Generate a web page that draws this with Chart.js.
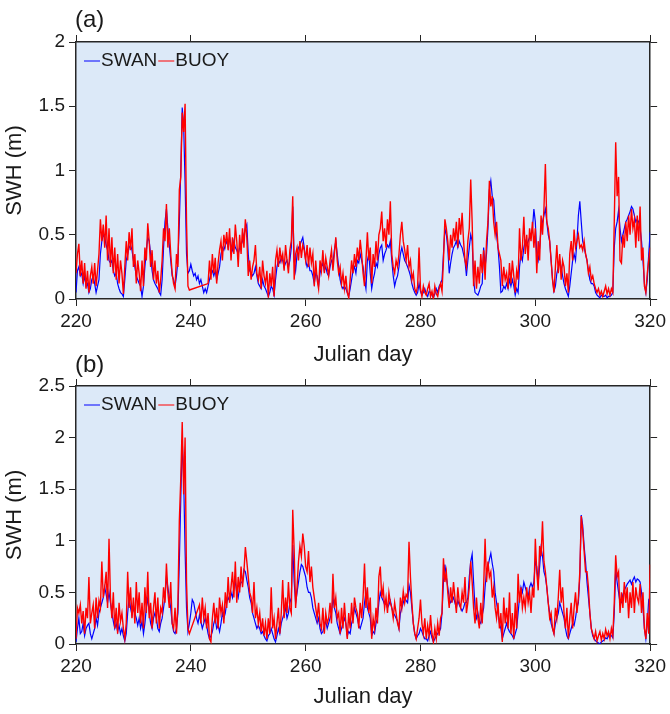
<!DOCTYPE html>
<html>
<head>
<meta charset="utf-8">
<script src="https://cdn.jsdelivr.net/npm/chart.js"></script>
<style>
  body { margin: 0; background: #fff; width: 670px; height: 714px; position: relative; overflow: hidden; }
  canvas { position: absolute; left: 0; }
  #chartA { top: 0; }
  #chartB { top: 350px; }
</style>
</head>
<body>
<canvas id="chartA" width="670" height="372"></canvas>
<canvas id="chartB" width="670" height="364"></canvas>
<script>
// Julian days 220..320, 4 samples per day (6-hourly)
const days = [];
for (let i = 0; i <= 400; i++) days.push(220 + i / 4);

const xTicks = [220, 240, 260, 280, 300, 320];
const yTicksA = [0, 0.5, 1, 1.5, 2];
const yTicksB = [0, 0.5, 1, 1.5, 2, 2.5];

// panel (a)
const buoyA = [
  .20,.35,.43,.18, .30,.12,.28,.08, .22,.05,.18,.25, .12,.28,.10,.22, .35,.62,.45,.58,
  .40,.65,.30,.55, .25,.48,.20,.40, .15,.35,.12,.30, .20,.04,.25,.45, .30,.52,.38,.55,
  .25,.35,.12,.30, .20,.06,.30,.10, .40,.30,.59,.45, .25,.38,.15,.30, .12,.22,.05,.15,
  .30,.55,.45,.74, .40,.55,.35,.20, .12,.08,.35,.25, .85,.95,1.45,1.30, 1.52,.60,.10,.07,
  null,null,null,null, null,null,null,null, null,null,null,null, .12,.30,.15,.35, .20,.32,.12,.28,
  .38,.45,.30,.50, .42,.52,.38,.55, .30,.48,.35,.58, .45,.25,.50,.35, .55,.40,.62,.48,
  .18,.30,.15,.25, .30,.42,.20,.15, .25,.08,.30,.18, .12,.22,.01,.20, .10,.25,.02,.30,
  .38,.25,.40,.30, .35,.22,.42,.30, .20,.38,.45,.80, .15,.35,.40,.30, .45,.32,.42,.38,
  .30,.42,.25,.40, .28,.35,.10,.30, .15,.08,.30,.22, .38,.20,.32,.25, .18,.30,.38,.22,
  .35,.48,.30,.20, .25,.12,.20,.08, .18,.05,.01,.15, .30,.20,.35,.25, .40,.30,.46,.35,
  .20,.10,.30,.52, .30,.40,.12,.35, .25,.45,.30,.50, .55,.68,.45,.55, .40,.62,.50,.76,
  .35,.25,.20,.30, .25,.35,.50,.60, .45,.38,.30,.42, .25,.30,.15,.20, .08,.05,.10,.40,
  .08,.02,.10,.05, .03,.08,.12,.02, .06,.00,.10,.04, .02,.08,.12,.06, .30,.62,.55,.45,
  .30,.50,.40,.55, .45,.60,.40,.63, .50,.67,.45,.30, .25,.45,.55,.93, .60,.10,.30,.08,
  .25,.12,.35,.20, .38,.15,.45,.60, .92,.72,.80,.60, .50,.60,.40,.35, .30,.10,.25,.15,
  .20,.08,.28,.12, .30,.18,.05,.22, .15,.55,.30,.40, .64,.35,.50,.30, .55,.45,.60,.40,
  .55,.20,.45,.30, .65,.50,.70,1.05, .60,.55,.45,.30, .15,.05,.25,.42, .20,.35,.15,.30,
  .25,.10,.20,.05, .35,.45,.30,.54, .40,.45,.50,.40, .42,.38,.45,.35, .30,.20,.25,.15,
  .18,.12,.08,.05, .08,.03,.06,.02, .06,.10,.04,.08, .03,.08,.05,.60, 1.22,.80,.95,.30,
  .28,.50,.40,.60, .45,.65,.50,.70, .55,.62,.40,.65, .45,.72,.30,.40, .10,.05,.20,.30,
  .40
];
const swanA = [
  .05,.22,.25,.18, .20,.12,.18,.10, .12,.05,.08,.15, .18,.12,.05,.10, .15,.35,.45,.50,
  .48,.42,.38,.30, .28,.30,.22,.18, .20,.12,.08,.05, .04,.02,.15,.30, .35,.40,.42,.38,
  .30,.25,.18,.15, .12,.10,.02,.10, .25,.38,.48,.45, .35,.22,.15,.12, .10,.08,.05,.03,
  .15,.40,.60,.70, .55,.42,.30,.18, .15,.10,.18,.30, .60,1.00,1.49,1.35, .90,.35,.20,.22,
  .27,.22,.18,.20, .15,.18,.12,.15, .10,.05,.08,.05, .10,.15,.20,.22, .18,.22,.15,.20,
  .25,.35,.40,.38, .42,.45,.40,.48, .42,.38,.45,.40, .38,.35,.40,.42, .45,.50,.55,.58,
  .35,.22,.20,.18, .20,.25,.18,.12, .10,.08,.15,.10, .08,.05,.02,.05, .10,.08,.03,.15,
  .25,.30,.28,.32, .30,.25,.28,.30, .25,.30,.40,.72, .30,.22,.35,.40, .42,.45,.48,.40,
  .30,.25,.28,.22, .22,.18,.12,.20, .18,.10,.20,.25, .28,.22,.25,.20, .18,.25,.30,.28,
  .38,.45,.35,.25, .15,.10,.08,.10, .08,.05,.02,.08, .15,.22,.25,.20, .30,.28,.35,.30,
  .25,.15,.08,.30, .35,.20,.08,.15, .20,.28,.25,.35, .40,.42,.30,.35, .38,.42,.40,.45,
  .30,.18,.10,.15, .18,.25,.35,.40, .35,.30,.28,.25, .22,.18,.12,.08, .05,.03,.05,.12,
  .06,.03,.05,.08, .04,.02,.06,.05, .03,.01,.04,.08, .05,.10,.12,.15, .35,.55,.50,.40,
  .20,.28,.35,.40, .42,.45,.40,.45, .42,.40,.35,.30, .18,.30,.40,.50, .45,.15,.05,.04,
  .03,.06,.10,.12, .40,.25,.35,.55, .85,.92,.80,.77, .60,.50,.40,.25, .05,.06,.10,.08,
  .12,.08,.15,.10, .15,.10,.03,.08, .05,.25,.35,.30, .40,.45,.42,.45, .48,.50,.55,.70,
  .60,.35,.30,.40, .55,.60,.65,.70, .60,.50,.45,.30, .15,.06,.10,.20, .25,.30,.25,.18,
  .12,.08,.05,.02, .10,.20,.30,.35, .30,.45,.65,.76, .60,.45,.40,.35, .30,.22,.15,.12,
  .12,.10,.05,.03, .02,.01,.03,.02, .02,.03,.01,.02, .02,.03,.05,.40, .55,.60,.69,.55,
  .45,.50,.55,.60, .62,.65,.68,.72, .70,.65,.60,.62, .60,.55,.45,.30, .12,.05,.15,.35,
  .52
];

// panel (b)
const buoyB = [
  .05,.35,.30,.38, .20,.32,.10,.35, .25,.65,.20,.30, .38,.15,.45,.25, .42,.35,.80,.45,
  .55,.70,.35,1.02, .45,.25,.50,.15, .35,.10,.40,.22, .30,.15,.05,.20, .70,.35,.55,.25,
  .45,.20,.60,.30, .50,.20,.40,.15, .55,.30,.70,.25, .40,.15,.35,.50, .20,.45,.15,.35,
  .30,.55,.40,.78, .50,.35,.60,.20, .15,.35,.10,.40, 1.20,1.60,2.15,1.45, 2.00,.60,.15,.10,
  null,null,null,null, null,null,.38,.20, .45,.25,.35,.15, .30,.05,.02,.25, .40,.20,.35,.15,
  .45,.30,.38,.20, .50,.35,.65,.40, .55,.70,.45,.80, .40,.65,.50,.75, .55,.70,.94,.80,
  .65,.50,.45,.30, .60,.25,.35,.20, .30,.12,.25,.08, .20,.05,.25,.10, .55,.15,.25,.05,
  .20,.35,.10,.30, .62,.25,.45,.30, .60,.35,.30,1.30, .90,.35,.55,.80, .95,.85,1.07,.95,
  .75,.70,.90,.60, .75,.55,.45,.35, .25,.40,.20,.15, .35,.10,.30,.20, .25,.40,.20,.68,
  .35,.45,.25,.30, .10,.35,.15,.40, .20,.05,.30,.15, .40,.20,.45,.35, .30,.15,.40,.25,
  .45,.78,.35,.55, .30,.45,.05,.25, .15,.35,.20,.65, .75,.45,.55,.35, .45,.30,.50,.40,
  .35,.25,.40,.30, .20,.15,.45,.35, .51,.40,.48,.45, .99,.65,.40,.20, .10,.05,.15,.25,
  .43,.20,.10,.25, .05,.18,.08,.28, .10,.02,.15,.05, .20,.08,.25,.30, .83,.60,.70,.50,
  .35,.55,.40,.60, .45,.30,.55,.40, .35,.50,.40,.65, .30,.40,.55,.80, .60,.35,.20,.45,
  .25,.15,.40,.20, .55,1.02,.60,.80, .65,.70,.45,.55, .35,.25,.40,.15, .30,.02,.45,.20,
  .35,.15,.50,.10, .30,.05,.40,.15, .68,.40,.55,.35, .45,.35,.55,.40, .50,.30,.55,.45,
  1.02,.70,.52,.95, .85,1.19,.80,.70, .55,.40,.25,.30, .15,.10,.35,.25, .45,.72,.40,.55,
  .30,.15,.35,.05, .25,.40,.15,.35, .50,.30,.45,.70, 1.24,1.10,.90,.70, .70,.55,.30,.15,
  .10,.05,.12,.03, .08,.12,.04,.10, .05,.14,.08,.12, .05,.15,.08,.40, .86,.65,.70,.30,
  .50,.35,.60,.40, .55,.25,.50,.35, .60,.30,.55,.45, .40,.58,.30,.50, .15,.05,.30,.10,
  .77
];
const swanB = [
  .02,.15,.25,.10, .12,.20,.08,.15, .18,.20,.10,.05, .10,.15,.25,.18, .30,.35,.40,.45,
  .55,.48,.40,.50, .40,.30,.22,.15, .20,.12,.18,.10, .15,.08,.03,.10, .30,.45,.35,.28,
  .35,.30,.25,.18, .25,.15,.22,.10, .20,.35,.45,.30, .20,.15,.25,.30, .25,.15,.12,.20,
  .25,.35,.45,.65, .55,.45,.35,.20, .12,.10,.15,.30, .80,1.40,1.98,1.60, .90,.35,.12,.20,
  .30,.43,.40,.32, .25,.20,.28,.22, .15,.20,.25,.18, .10,.05,.08,.12, .20,.25,.15,.18,
  .12,.20,.30,.25, .30,.40,.45,.42, .50,.45,.55,.60, .50,.45,.55,.60, .60,.72,.70,.62,
  .55,.45,.40,.30, .25,.20,.15,.18, .15,.10,.12,.08, .05,.03,.08,.10, .15,.10,.05,.02,
  .08,.15,.10,.20, .25,.30,.35,.25, .30,.40,.45,.96, .60,.40,.50,.60, .70,.77,.75,.70,
  .65,.55,.50,.50, .45,.35,.30,.25, .20,.25,.15,.10, .12,.18,.22,.15, .20,.25,.30,.45,
  .35,.30,.20,.15, .10,.15,.20,.25, .20,.08,.12,.10, .20,.25,.35,.30, .25,.18,.15,.20,
  .25,.40,.50,.35, .30,.25,.08,.12, .10,.20,.25,.40, .50,.45,.42,.38, .40,.35,.38,.42,
  .35,.30,.28,.25, .22,.15,.30,.35, .40,.45,.42,.40, .57,.50,.35,.20, .10,.05,.08,.10,
  .15,.12,.08,.05, .05,.03,.08,.12, .06,.02,.05,.08, .10,.12,.15,.30, .60,.77,.65,.55,
  .45,.40,.42,.45, .40,.35,.42,.38, .35,.32,.35,.40, .40,.45,.65,.80, .87,.60,.35,.25,
  .30,.22,.20,.28, .35,.55,.70,.75, .82,.88,.78,.70, .50,.40,.30,.20, .15,.05,.10,.15,
  .20,.15,.12,.10, .08,.05,.10,.15, .30,.45,.55,.50, .60,.55,.50,.45, .55,.59,.55,.60,
  .80,.75,.60,.75, .93,.85,.70,.65, .55,.40,.30,.20, .15,.10,.20,.25, .30,.40,.35,.30,
  .25,.15,.08,.05, .10,.15,.20,.18, .25,.35,.40,.65, 1.25,1.15,.95,.80, .60,.45,.30,.15,
  .08,.05,.03,.02, .01,.00,.02,.03, .04,.06,.05,.08, .10,.08,.06,.30, .72,.60,.50,.40,
  .40,.48,.52,.55, .58,.60,.62,.58, .62,.65,.60,.63, .62,.60,.50,.35, .15,.05,.20,.43,
  .45
];

const FONT = '"Liberation Sans", Arial, sans-serif';
const INK = '#1a1a1a';
const AXIS = '#262626';
const BG = 'rgb(220,233,248)';

const bgPlugin = {
  id: 'bg',
  beforeDraw(chart) {
    const { ctx, chartArea: a } = chart;
    ctx.save();
    ctx.fillStyle = BG;
    ctx.fillRect(a.left, a.top, a.right - a.left, a.bottom - a.top);
    ctx.restore();
  }
};

// legend drawn inside the plot, top-left, items packed tightly like the original
const innerLegend = {
  id: 'innerLegend',
  afterDatasetsDraw(chart) {
    const { ctx, chartArea: a } = chart;
    ctx.save();
    ctx.font = '19px ' + FONT;
    ctx.textBaseline = 'middle';
    ctx.textAlign = 'left';
    let x = a.left + 8;
    const y = a.top + 19;
    chart.data.datasets.forEach(ds => {
      ctx.strokeStyle = ds.borderColor;
      ctx.lineWidth = 1;
      ctx.beginPath();
      ctx.moveTo(x, y);
      ctx.lineTo(x + 16, y);
      ctx.stroke();
      ctx.fillStyle = INK;
      ctx.fillText(ds.label, x + 17, y);
      x += 17 + ctx.measureText(ds.label).width + 1;
    });
    ctx.restore();
  }
};

const tagPlugin = {
  id: 'tag',
  afterDraw(chart, args, opts) {
    const ctx = chart.ctx;
    ctx.save();
    ctx.font = '24px ' + FONT;
    ctx.fillStyle = INK;
    ctx.textBaseline = 'middle';
    ctx.fillText(opts.text, 75, opts.y);
    ctx.restore();
  }
};

function toPoints(arr) {
  return arr.map((v, i) => ({ x: days[i], y: v }));
}

function makeChart(id, swan, buoy, yTicks, tag, tagY, padTop, xAxisH) {
  const yMax = yTicks[yTicks.length - 1];
  const grid = { drawOnChartArea: false, drawTicks: true, tickLength: 7, color: AXIS, lineWidth: 1 };
  const border = { display: true, color: AXIS, width: 1.5 };
  const tickFont = { family: FONT, size: 19 };
  const titleFont = { family: FONT, size: 22 };
  return new Chart(document.getElementById(id), {
    type: 'line',
    data: {
      datasets: [
        { label: 'SWAN', data: toPoints(swan), borderColor: 'rgb(0,0,255)', borderWidth: 1.2, order: 1 },
        { label: 'BUOY', data: toPoints(buoy), borderColor: 'rgb(255,0,0)', borderWidth: 1.4, order: 0 }
      ]
    },
    options: {
      responsive: false,
      animation: false,
      events: [],
      spanGaps: true,
      elements: { point: { radius: 0 }, line: { tension: 0 } },
      layout: { padding: { top: padTop, left: 0, right: 0, bottom: 0 } },
      plugins: { legend: { display: false }, tooltip: { enabled: false }, tag: { text: tag, y: tagY } },
      scales: {
        x: {
          type: 'linear', position: 'bottom', min: 220, max: 320,
          afterBuildTicks: s => { s.ticks = xTicks.map(v => ({ value: v })); },
          ticks: { font: tickFont, color: INK, padding: 4, maxRotation: 0, callback: v => String(v) },
          grid, border,
          title: { display: true, text: 'Julian day', font: titleFont, color: INK, padding: { top: 0, bottom: 4 } },
          afterFit: s => { s.height = xAxisH; }
        },
        x2: {
          type: 'linear', position: 'top', min: 220, max: 320,
          afterBuildTicks: s => { s.ticks = xTicks.map(v => ({ value: v })); },
          ticks: { display: false },
          grid, border,
          afterFit: s => { s.height = 7; }
        },
        y: {
          type: 'linear', position: 'left', min: 0, max: yMax,
          afterBuildTicks: s => { s.ticks = yTicks.map(v => ({ value: v })); },
          ticks: { font: tickFont, color: INK, padding: 4, callback: v => String(v) },
          grid, border,
          title: { display: true, text: 'SWH (m)', font: titleFont, color: INK, padding: { top: 2, bottom: 0 } },
          afterFit: s => { s.width = 76; }
        },
        y2: {
          type: 'linear', position: 'right', min: 0, max: yMax,
          afterBuildTicks: s => { s.ticks = yTicks.map(v => ({ value: v })); },
          ticks: { display: false },
          grid, border,
          afterFit: s => { s.width = 19; }
        }
      }
    },
    plugins: [bgPlugin, innerLegend, tagPlugin]
  });
}

makeChart('chartA', swanA, buoyA, yTicksA, '(a)', 20, 35, 73);
makeChart('chartB', swanB, buoyB, yTicksB, '(b)', 15, 29, 70);
</script>
</body>
</html>
